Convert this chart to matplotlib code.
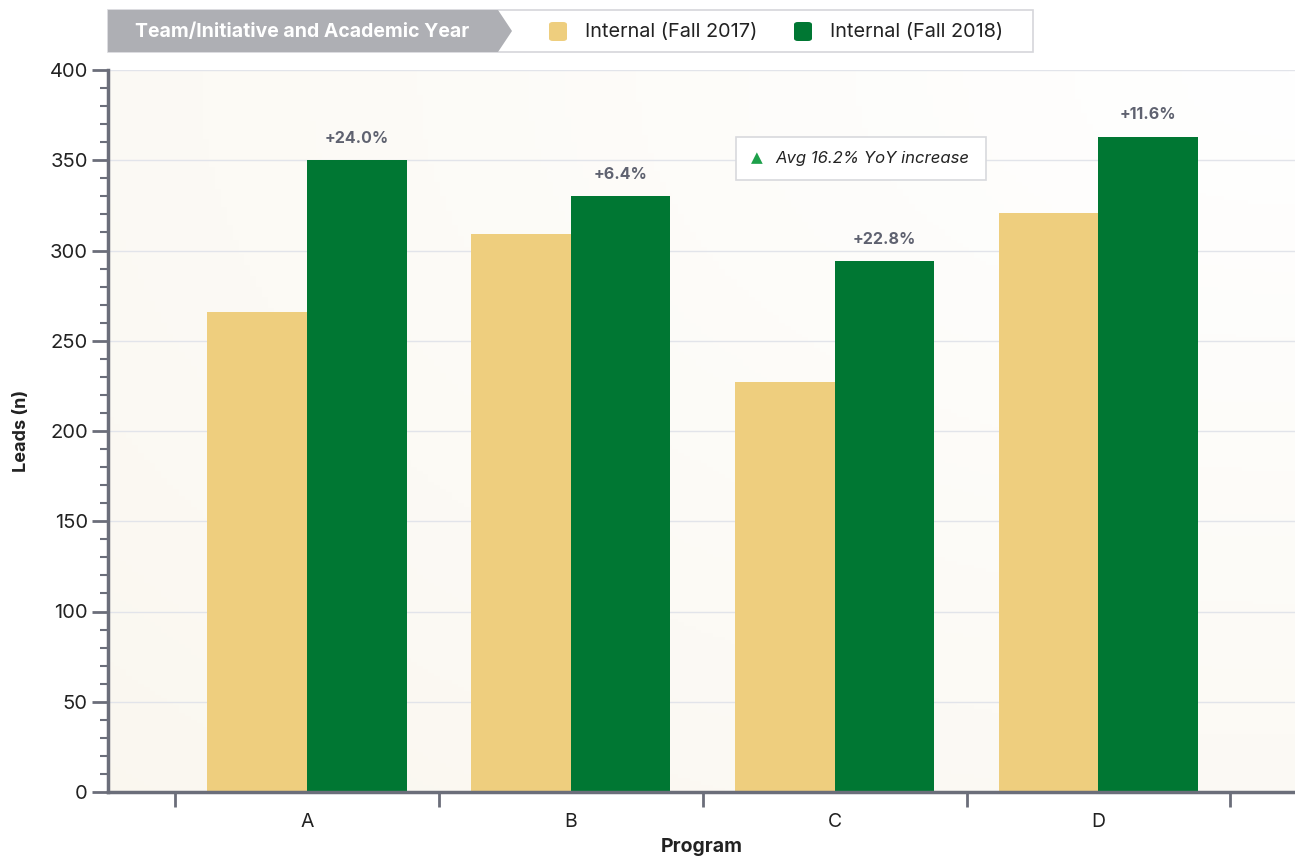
import matplotlib as M
M.use('agg')
import numpy as N
import matplotlib.pyplot as plt
from matplotlib.patches import Polygon, Rectangle, FancyBboxPatch

plt.rcParams['font.family'] = ['Inter', 'DejaVu Sans']

programs = ['A', 'B', 'C', 'D']
leads_2017 = [266, 309, 227, 321]
leads_2018 = [350, 330, 294, 363]
yoy_labels = ['+24.0%', '+6.4%', '+22.8%', '+11.6%']
series_names = ['Internal (Fall 2017)', 'Internal (Fall 2018)']
legend_title = 'Team/Initiative and Academic Year'
avg_note = 'Avg 16.2% YoY increase'

c17 = '#EECE7E'
c18 = '#007733'
axc = '#6B6E7A'

W, H = 1295, 859
fig = plt.figure(figsize=(W/100., H/100.), dpi=100)
ax = fig.add_axes([108./W, 1-792./H, 1-108./W, (792-70.)/H])

# soft background gradient
gx, gy = N.meshgrid(N.linspace(0, 1, 200), N.linspace(0, 1, 200))
dist = N.sqrt((gx-1)**2 + (gy-1)**2)/N.sqrt(2)
c0 = N.array([1.0, 1.0, 1.0])
c1 = N.array([0.982, 0.970, 0.940])
img = c0[None, None, :]*(1-dist[..., None]) + c1[None, None, :]*dist[..., None]
ax.imshow(img, extent=[0, 1, 0, 1], transform=ax.transAxes, origin='lower',
          aspect='auto', zorder=0)

x = N.arange(len(programs))
bw = 0.378
ax.bar(x - bw/2, leads_2017, bw, color=c17, zorder=3)
ax.bar(x + bw/2, leads_2018, bw, color=c18, zorder=3)

for xi, v, lab in zip(x, leads_2018, yoy_labels):
    ax.annotate(lab, (xi + bw/2, v), xytext=(0, 16), textcoords='offset points',
                ha='center', va='center', fontsize=11.5, fontweight='bold',
                color='#5F6270', zorder=4)

ax.set_xlim(-0.754, 3.745)
ax.set_ylim(0, 400)
ax.set_yticks(N.arange(0, 401, 50))
ax.set_yticks(N.arange(0, 401, 10), minor=True)
ax.set_xticks(x)
ax.set_xticklabels(programs)
ax.set_xticks(N.arange(-0.5, 4, 1), minor=True)
ax.tick_params(axis='x', which='major', length=0, pad=15, labelsize=14, labelcolor='#222222')
ax.tick_params(axis='x', which='minor', length=11, width=2, color=axc)
ax.tick_params(axis='y', which='major', length=11.5, width=2, color=axc, labelsize=14.5,
               labelcolor='#222222', pad=3)
ax.tick_params(axis='y', which='minor', length=5.5, width=1.5, color=axc)

for s in ['top', 'right']:
    ax.spines[s].set_visible(False)
for s in ['left', 'bottom']:
    ax.spines[s].set_color(axc)
    ax.spines[s].set_linewidth(2.5)
    ax.spines[s].set_zorder(5)

ax.grid(axis='y', which='major', color='#E2E4EA', lw=1, zorder=1)
ax.set_axisbelow(True)

ax.set_ylabel('Leads (n)', fontsize=13, fontweight='bold', color='#222222', labelpad=14)
ax.set_xlabel('Program', fontsize=14, fontweight='bold', color='#222222', labelpad=5)

# legend header
def fx(px):
    return px/float(W)

def fy(py):
    return 1 - py/float(H)

fig.patches.append(Rectangle((fx(108), fy(52)), fx(1033)-fx(108), fy(10)-fy(52),
                             transform=fig.transFigure, facecolor='white',
                             edgecolor='#D5D6DA', lw=1.2, zorder=1))
fig.patches.append(Polygon([(fx(108), fy(10)), (fx(498), fy(10)), (fx(512), fy(31)),
                            (fx(498), fy(52)), (fx(108), fy(52))],
                           closed=True, transform=fig.transFigure,
                           facecolor='#AEAFB4', edgecolor='none', zorder=2))
fig.text(fx(302), fy(32), legend_title, ha='center', va='center', fontsize=14,
         fontweight='bold', color='white')
for px, col, name in [(549, c17, series_names[0]), (794, c18, series_names[1])]:
    fig.patches.append(FancyBboxPatch((fx(px), fy(41)), fx(18), fy(22)-fy(41),
                                      boxstyle='round,pad=0,rounding_size=0.003',
                                      transform=fig.transFigure, facecolor=col,
                                      edgecolor='none', zorder=3))
    fig.text(fx(px+36), fy(32), name, ha='left', va='center', fontsize=14.3,
             color='#222222')

# average note box
fig.patches.append(Rectangle((fx(736), fy(180)), fx(986)-fx(736), fy(137)-fy(180),
                             transform=fig.transFigure, facecolor='white',
                             edgecolor='#D8D9DD', lw=1.2, zorder=6))
fig.text(fx(757), fy(158), u'\u25B2', ha='center', va='center', fontsize=11,
         color='#1DA04A', zorder=7, family='DejaVu Sans')
fig.text(fx(775), fy(158), avg_note, ha='left', va='center', fontsize=12,
         style='italic', color='#222222', zorder=7)

fig.savefig('out.png', dpi=100)
plt.close(fig)
